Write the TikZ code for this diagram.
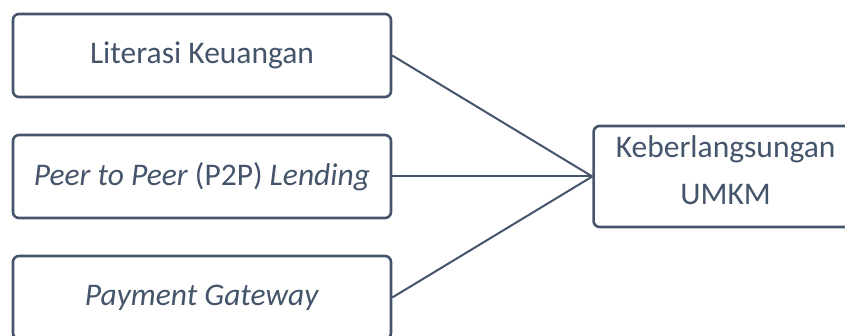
\documentclass[tikz,border=0pt]{standalone}
\usepackage{fontspec}
\setmainfont{Carlito}
\usetikzlibrary{positioning}
\definecolor{slate}{HTML}{44546A}

\begin{document}
\begin{tikzpicture}[x=1pt,y=1pt]
		\tikzstyle{var}=[rectangle, rounded corners=6pt, draw=slate, line width=2.6pt, text=slate, minimum width=378pt, minimum height=83pt, font=\fontsize{31.5}{38}\selectfont, node distance=35.4pt]
		\tikzstyle{connect}=[draw=slate, line width=2pt]
		\useasboundingbox (0,0) rectangle (845,-336);
		\node[var] (lit)  at (202,-55.5) {Literasi Keuangan};
		\node[var] (p2p)  [below=of lit] {\textit{Peer to Peer} (P2P) \textit{Lending}};
		\node[var] (pg)   [below=of p2p] {\textit{Payment Gateway}};
		\node[var, minimum width=264pt, minimum height=101pt, align=center, font=\fontsize{31.5}{47}\selectfont] (umkm) [right=200pt of p2p] {Keberlangsungan\\UMKM\rule[-12pt]{0pt}{0pt}};
		
		\path 
		(lit.east) edge [connect] (umkm.west)
		(p2p.east) edge [connect] (umkm.west)
		(pg.east)  edge [connect] (umkm.west)
		;
		
		\end{tikzpicture}
\end{document}
